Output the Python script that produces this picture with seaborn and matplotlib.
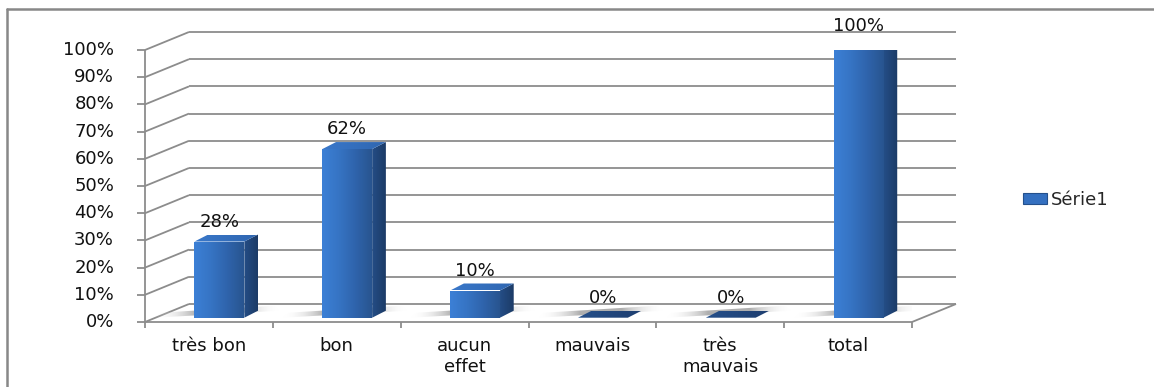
import numpy as np
import pandas as pd
import matplotlib
matplotlib.use("Agg")
import matplotlib.pyplot as plt
import matplotlib.transforms as mtransforms
from matplotlib.patches import Polygon, Patch
from matplotlib.lines import Line2D
from matplotlib.colors import LinearSegmentedColormap
import seaborn as sns

# ---- data -------------------------------------------------------------
categories = ["très bon", "bon", "aucun\neffet", "mauvais", "très\nmauvais", "total"]
values = [28, 62, 10, 0, 0, 100]
value_labels = ["28%", "62%", "10%", "0%", "0%", "100%"]
y_ticks = [0, 10, 20, 30, 40, 50, 60, 70, 80, 90, 100]
y_tick_labels = [f"{t}%" for t in y_ticks]
series_name = "Série1"

# ---- style ------------------------------------------------------------
sns.set_theme(style="white")
plt.rcParams["font.family"] = ["DejaVu Sans"]
FS = 13
GRID = "#8c8c8c"

W, H, DPI = 1154, 387, 100
fig = plt.figure(figsize=(W / DPI, H / DPI), dpi=DPI)
fig.patch.set_facecolor("white")

# front plane of the 3-D box (pixels from top-left)
x_front0, x_front1 = 145, 912
y_zero, y_full = 322, 50
ax = fig.add_axes([x_front0 / W, (H - y_zero) / H,
                   (x_front1 - x_front0) / W, (y_zero - y_full) / H])

BOX_DX, BOX_DY = 44, 18      # depth of the whole box
BAR_DX, BAR_DY = 10.5, 4.3   # bars sit a little behind the front plane
FACE_DX, FACE_DY = 13.7, 7   # depth of each bar
BAR_W = 0.39

df = pd.DataFrame({"cat": categories, "val": values})
sns.barplot(data=df, x="cat", y="val", order=categories, width=BAR_W,
            color="#3468b4", saturation=1, linewidth=0, ax=ax, zorder=4)
ax.set_xlim(-0.5, len(categories) - 0.5)
ax.set_ylim(0, 100)
ax.set_autoscale_on(False)
ax.axis("off")

IDT = mtransforms.IdentityTransform()
x_lo, x_hi = -0.5, len(categories) - 0.5


def disp(x, y, dx=0.0, dy=0.0):
    px, py = ax.transData.transform((x, y))
    return np.array([px + dx, py + dy])


def line(p, q, lw=1.3, color=GRID, z=1):
    ax.add_line(Line2D([p[0], q[0]], [p[1], q[1]], transform=IDT, color=color,
                       lw=lw, clip_on=False, zorder=z, solid_capstyle="butt"))


def gradient_poly(pts, colors, horizontal=True, z=4, alpha=None):
    pts = np.asarray(pts)
    x0, x1 = pts[:, 0].min(), pts[:, 0].max()
    y0, y1 = pts[:, 1].min(), pts[:, 1].max()
    cmap = LinearSegmentedColormap.from_list("g", colors)
    grad = np.linspace(0, 1, 256)
    arr = grad[None, :] if horizontal else grad[::-1][:, None]
    clip = Polygon(pts, closed=True, transform=IDT, facecolor="none", edgecolor="none")
    ax.add_patch(clip)
    im = ax.imshow(arr, cmap=cmap, extent=(x0, x1, y0, y1), aspect="auto",
                   transform=IDT, zorder=z, interpolation="bilinear", alpha=alpha)
    im.set_clip_path(clip)
    return im


# ---- box: back wall, left wall, floor --------------------------------
for t in y_ticks:
    line(disp(x_lo, t, BOX_DX, BOX_DY), disp(x_hi, t, BOX_DX, BOX_DY))
    line(disp(x_lo, t), disp(x_lo, t, BOX_DX, BOX_DY))
    line(disp(x_lo, t), disp(x_lo, t, -8, 0))
    ax.text(*disp(x_lo, t, -31, 0), f"{t}%", transform=IDT, ha="right", va="center",
            fontsize=FS, color="#111111")
line(disp(x_lo, 0), disp(x_lo, 100))
line(disp(x_lo, 0), disp(x_hi, 0))
line(disp(x_hi, 0), disp(x_hi, 0, BOX_DX, BOX_DY))
for i in range(len(categories) + 1):
    line(disp(x_lo + i, 0), disp(x_lo + i, 0, 0, -6))

for i, c in enumerate(categories):
    ax.text(*disp(i, 0, 0, -15), c, transform=IDT, ha="center", va="top",
            fontsize=FS, color="#111111", linespacing=1.2)

# ---- 3-D bars from the seaborn patches --------------------------------
bar_off = mtransforms.ScaledTranslation(BAR_DX / DPI, BAR_DY / DPI, fig.dpi_scale_trans)
for i, patch in enumerate(ax.patches[: len(values)]):
    x0 = patch.get_x()
    w = patch.get_width()
    h = patch.get_height()
    patch.set_visible(False)

    fl = disp(x0, 0, BAR_DX, BAR_DY)
    fr = disp(x0 + w, 0, BAR_DX, BAR_DY)
    tl = disp(x0, h, BAR_DX, BAR_DY)
    tr = disp(x0 + w, h, BAR_DX, BAR_DY)
    d = np.array([FACE_DX, FACE_DY])

    # soft floor shadow
    sh = [fl + [-38, 0], fr + d + [18, 0], fr + d + [18, 0] + [0, 1], fl + [-38, 6]]
    gradient_poly([fl + [-40, 0], fr + d + [22, 0], fr + d + [22, 0] + [-6, 5], fl + [-34, 5]],
                  [(1, 1, 1, 0), (0.55, 0.55, 0.55, 0.7), (0.55, 0.55, 0.55, 0.7), (1, 1, 1, 0)],
                  horizontal=True, z=2)

    if h > 0:
        gradient_poly([fl, fr, tr, tl], ["#3c80d6", "#3674c4", "#2f64ac", "#28548f"], z=4)
        gradient_poly([fr, fr + d, tr + d, tr], ["#244d86", "#1c3b66"], z=4)
    gradient_poly([tl, tr, tr + d, tl + d],
                  ["#3a78ca", "#2f66b0"] if h > 0 else ["#254f8a", "#1f3f70"], z=5)

    ax.text(*disp(i, h, BAR_DX, BAR_DY + 20), value_labels[i], transform=IDT,
            ha="center", va="center", fontsize=FS, color="#111111", zorder=6)

ax.set_xlim(x_lo, x_hi)
ax.set_ylim(0, 100)

# ---- legend -------------------------------------------------------------
handle = Patch(facecolor="#3470c0", edgecolor="#24508c", linewidth=0.8, label=series_name)
fig.legend(handles=[handle], loc="center left", bbox_to_anchor=(1016 / W, (H - 200) / H),
           frameon=False, fontsize=FS, handlelength=1.3, handleheight=0.5,
           handletextpad=0.25, borderaxespad=0)

# ---- outer chart frame --------------------------------------------------
fig.add_artist(Line2D([7 / W, 1.0], [1 - 9 / H, 1 - 9 / H], transform=fig.transFigure,
                      color="#888888", lw=1.8))
fig.add_artist(Line2D([7 / W, 7 / W], [0, 1 - 9 / H], transform=fig.transFigure,
                      color="#888888", lw=1.8))

fig.savefig("out.png", dpi=DPI)
